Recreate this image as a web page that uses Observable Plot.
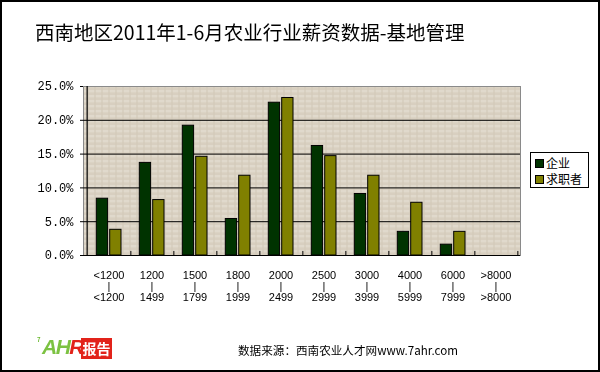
<!DOCTYPE html>
<html>
<head>
<meta charset="utf-8">
<script src="https://cdn.jsdelivr.net/npm/d3@7"></script>
<script src="https://cdn.jsdelivr.net/npm/@observablehq/plot@0.6"></script>
<style>
  html, body { margin: 0; padding: 0; background: #fff; }
  #wrap { position: relative; width: 600px; height: 372px; overflow: hidden; background: #fff;
          font-family: "Noto Sans CJK SC", sans-serif; }
  #wrap svg { position: absolute; left: 0; top: 0; will-change: transform; }
  #border { position: absolute; left: 0; top: 0; width: 600px; height: 372px; box-sizing: border-box;
            border: 2px solid #000; pointer-events: none; }
  #title { position: absolute; left: 35px; top: 22px; font-size: 19.5px; color: #000; white-space: nowrap; line-height: 1; }
  #legend { position: absolute; left: 530px; top: 152px; width: 59px; height: 36px; box-sizing: border-box;
            border: 1px solid #000; background: #fff; font-size: 12px; line-height: 1; }
  #legend .item { position: absolute; left: 4px; white-space: nowrap; }
  #legend .sw { display: inline-block; width: 7px; height: 7px; border: 1px solid #000; vertical-align: middle; margin-right: 2px; position: relative; top: -1px; }
  #source { position: absolute; left: 238px; top: 345px; font-size: 11.6px; white-space: nowrap; line-height: 1; color: #000; }
  #logo { position: absolute; left: 37px; top: 337px; width: 76px; height: 23px; white-space: nowrap; }
  #logo .ahr { position: absolute; left: 5px; top: -1px; font-family: "Liberation Sans", sans-serif; font-style: italic; font-weight: bold; font-size: 21px; letter-spacing: -1.5px; line-height: 1; }
  #logo .box { position: absolute; left: 44px; top: 1px; width: 31px; height: 21px; background: #e2231a; color: #fff;
               font-size: 14px; font-weight: bold; line-height: 21px; text-align: center; }
  #logo .seven { position: absolute; left: 0px; top: 0px; font-size: 6px; color: #6ab82e; font-weight: bold; line-height: 1; }
</style>
</head>
<body>
<div id="wrap"></div>
<script>
// ---- data ----
const catLow  = ["<1200", "1200", "1500", "1800", "2000", "2500", "3000", "4000", "6000", ">8000"];
const catHigh = ["<1200", "1499", "1799", "1999", "2499", "2999", "3999", "5999", "7999", ">8000"];
const seriesNames = ["企业", "求职者"];
const enterprise = [8.4, 13.7, 19.2, 5.4, 22.6, 16.2, 9.1, 3.5, 1.6, 0];
const seekers    = [3.8, 8.2, 14.6, 11.8, 23.3, 14.7, 11.8, 7.8, 3.5, 0];
const yTicks = [0, 5, 10, 15, 20, 25];
const colors = ["#003300", "#808000"];

const rows = [];
catLow.forEach((c, i) => {
  rows.push({cat: c, series: seriesNames[0], value: enterprise[i]});
  rows.push({cat: c, series: seriesNames[1], value: seekers[i]});
});

// ---- layout ----
const W = 600, H = 372;
const mL = 83, mR = 80, mT = 86, mB = 117;
const step = (W - mL - mR) / catLow.length;

const chart = Plot.plot({
  width: W, height: H,
  marginLeft: mL, marginRight: mR, marginTop: mT, marginBottom: mB,
  style: {background: "transparent", overflow: "visible"},
  x: {domain: catLow, padding: 0, label: null},
  y: {domain: [0, 25], label: null},
  color: {domain: seriesNames, range: colors},
  marks: [
    Plot.frame({fill: "url(#tex)", stroke: "#8a8a8a"}),
    Plot.ruleY(yTicks.filter(t => t > 0 && t < 25), {stroke: "#000", strokeWidth: 1}),
    Plot.barY(rows.filter(d => d.series === seriesNames[0]), {
      x: "cat", y: "value", fill: "series", stroke: "#000", strokeWidth: 1,
      insetLeft: 9.3, insetRight: step - 21.3
    }),
    Plot.barY(rows.filter(d => d.series === seriesNames[1]), {
      x: "cat", y: "value", fill: "series", stroke: "#000", strokeWidth: 1,
      insetLeft: 22.7, insetRight: step - 34.7
    }),
    Plot.ruleX(catLow, {x: d => d, dx: step / 2, y1: 0, y2: 0.6, stroke: "#000", strokeWidth: 1}),
    Plot.ruleY([0], {stroke: "#000", strokeWidth: 1.2}),
    Plot.ruleX([catLow[0]], {x: d => d, dx: -step / 2, stroke: "#000", strokeWidth: 1.2}),
    Plot.axisY({
      ticks: yTicks, tickSize: 3, tickPadding: 7,
      tickFormat: d => d.toFixed(1) + "%",
      fontSize: 12, fontFamily: "Liberation Mono, DejaVu Sans Mono, monospace", label: null
    }),
    Plot.axisX({
      tickSize: 0, tickPadding: 16, lineHeight: 1.0,
      tickFormat: (d) => catLow[catLow.indexOf(d)] + "\n|\n" + catHigh[catLow.indexOf(d)],
      fontSize: 11, fontFamily: "Liberation Sans, Arial, sans-serif", label: null
    })
  ]
});

// texture pattern for the plot background
const svg = d3.select(chart);
const defs = svg.insert("defs", ":first-child");
const pat = defs.append("pattern").attr("id", "tex").attr("patternUnits", "userSpaceOnUse")
  .attr("width", 7).attr("height", 5);
pat.append("rect").attr("width", 7).attr("height", 5).attr("fill", "#dbd3c4");
pat.append("rect").attr("x", 0).attr("y", 0).attr("width", 7).attr("height", 1).attr("fill", "#e5dfd3");
pat.append("rect").attr("x", 3).attr("y", 0).attr("width", 1).attr("height", 5).attr("fill", "#d0c7b6");
pat.append("rect").attr("x", 0).attr("y", 3).attr("width", 7).attr("height", 1).attr("fill", "#d4cbbb");

const wrap = document.getElementById("wrap");
wrap.appendChild(chart);

// title
const title = document.createElement("div");
title.id = "title";
title.textContent = "西南地区2011年1-6月农业行业薪资数据-基地管理";
wrap.appendChild(title);

// legend
const legend = document.createElement("div");
legend.id = "legend";
seriesNames.forEach((s, i) => {
  const it = document.createElement("div");
  it.className = "item";
  it.style.top = (4 + i * 16) + "px";
  it.innerHTML = `<span class="sw" style="background:${colors[i]}"></span>${s}`;
  legend.appendChild(it);
});
wrap.appendChild(legend);

// logo
const logo = document.createElement("div");
logo.id = "logo";
logo.innerHTML = `<span class="seven">7</span><span class="ahr"><span style="color:#7cc242">A</span><span style="color:#7cc242">H</span><span style="color:#e2231a">R</span></span><span class="box">报告</span>`;
wrap.appendChild(logo);

// source
const src = document.createElement("div");
src.id = "source";
src.textContent = "数据来源：西南农业人才网www.7ahr.com";
wrap.appendChild(src);

const border = document.createElement("div");
border.id = "border";
wrap.appendChild(border);
</script>
</body>
</html>
